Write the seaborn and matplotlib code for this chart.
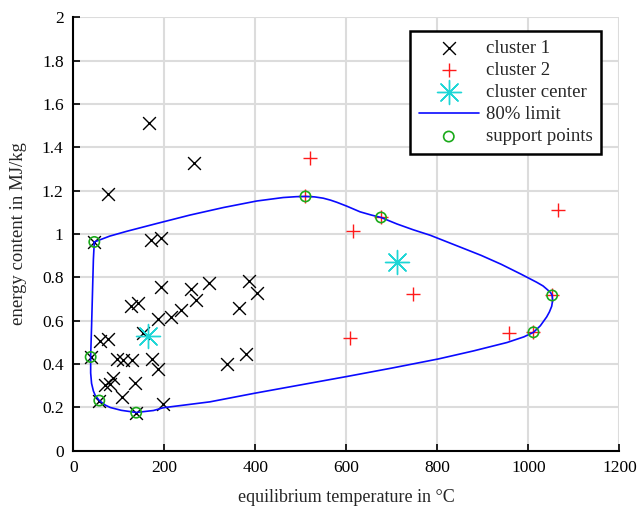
import numpy as np
import pandas as pd
import matplotlib
matplotlib.use("Agg")
import matplotlib.pyplot as plt
import seaborn as sns

# cluster 1 (black x)
c1_temp = [166, 265, 75, 46, 170, 192, 193, 259, 298, 387, 403, 126, 141, 270,
           237, 215, 187, 364, 153, 59, 77, 38, 95, 109, 128, 172, 186, 337,
           379, 88, 70, 81, 136, 106, 57, 138, 198]
c1_energy = [1.513, 1.328, 1.185, 0.963, 0.972, 0.979, 0.756, 0.747, 0.772, 0.781,
             0.728, 0.666, 0.682, 0.694, 0.648, 0.616, 0.608, 0.660, 0.543, 0.504,
             0.515, 0.432, 0.423, 0.420, 0.416, 0.423, 0.376, 0.398, 0.447, 0.335,
             0.304, 0.308, 0.311, 0.247, 0.231, 0.175, 0.215]

# cluster 2 (red +)
c2_temp = [519, 510, 676, 615, 746, 608, 1064, 1052, 1011, 957]
c2_energy = [1.349, 1.173, 1.076, 1.013, 0.725, 0.521, 1.111, 0.716, 0.546, 0.543]

# cluster centers
center_temp = [163, 712]
center_energy = [0.531, 0.870]

# support points of the 80% limit
sup_temp = [46, 38, 57, 138, 510, 676, 1052, 1011]
sup_energy = [0.963, 0.432, 0.231, 0.175, 1.173, 1.076, 0.716, 0.546]

# 80% limit contour
lim_temp = [46, 80, 117, 183, 256, 330, 403, 461, 490, 510, 530, 549, 565, 579,
            601, 630, 655, 676, 711, 747, 784, 860, 896, 940, 984, 1018, 1032,
            1042, 1049, 1052, 1053, 1051, 1046, 1040, 1026, 1011, 990, 953, 879,
            802, 700, 601, 399, 300, 198, 176, 138, 105, 81, 70, 57, 48, 44, 40,
            38, 38, 40, 42, 44, 46]
lim_energy = [0.963, 0.990, 1.012, 1.048, 1.087, 1.122, 1.152, 1.168, 1.172, 1.173,
              1.171, 1.165, 1.156, 1.146, 1.128, 1.102, 1.087, 1.076, 1.046, 1.019,
              0.994, 0.931, 0.901, 0.860, 0.814, 0.777, 0.760, 0.742, 0.728, 0.716,
              0.692, 0.666, 0.640, 0.617, 0.576, 0.546, 0.525, 0.499, 0.460, 0.423,
              0.381, 0.342, 0.265, 0.225, 0.198, 0.185, 0.176, 0.186, 0.199, 0.210,
              0.231, 0.255, 0.275, 0.310, 0.358, 0.435, 0.574, 0.728, 0.883, 0.963]

sns.set_style("white")
plt.rcParams["font.family"] = ["Liberation Serif", "DejaVu Serif"]

fig = plt.figure(figsize=(6.38, 5.08), dpi=100)
ax = fig.add_axes([0.115, 0.113, 0.856, 0.853])

df1 = pd.DataFrame({"t": c1_temp, "e": c1_energy})
df2 = pd.DataFrame({"t": c2_temp, "e": c2_energy})
dfc = pd.DataFrame({"t": center_temp, "e": center_energy})
dfs = pd.DataFrame({"t": sup_temp, "e": sup_energy})
dfl = pd.DataFrame({"t": lim_temp, "e": lim_energy})

sns.scatterplot(data=df1, x="t", y="e", marker="x", color="black", s=85,
                linewidth=1.0, ax=ax, zorder=3, label="cluster 1")
sns.scatterplot(data=df2, x="t", y="e", marker="+", color="#ff1a1a", s=100,
                linewidth=1.0, ax=ax, zorder=3, label="cluster 2")
sns.scatterplot(data=dfc, x="t", y="e", marker=(8, 2, 0), color="#1ed6d6", s=300,
                linewidth=1.0, ax=ax, zorder=4, label="cluster center")
sns.lineplot(data=dfl, x="t", y="e", sort=False, estimator=None, color="#0a0aff",
             linewidth=1.2, ax=ax, zorder=3, label="80% limit")
sns.scatterplot(data=dfs, x="t", y="e", marker="o", facecolor="none",
                edgecolor="#1aaa1a", s=55, linewidth=1.2, ax=ax, zorder=5,
                label="support points")

ax.set_xlim(0, 1200)
ax.set_ylim(0, 2)
ax.set_xticks(np.arange(0, 1201, 200))
ax.set_yticks(np.arange(0, 2.01, 0.2))
ax.set_yticklabels(["0", "0.2", "0.4", "0.6", "0.8", "1", "1.2", "1.4", "1.6", "1.8", "2"])
ax.grid(True, color="#dcdcdc", linewidth=1.5)
ax.set_axisbelow(True)
for side in ["top", "right"]:
    ax.spines[side].set_visible(False)
for side in ["left", "bottom"]:
    ax.spines[side].set_color("black")
    ax.spines[side].set_linewidth(1.5)
ax.tick_params(direction="in", length=5, width=1.2, labelsize=12.5, colors="black",
               left=True, bottom=True, pad=7)
ax.set_xlabel("equilibrium temperature in °C", fontsize=13, labelpad=9)
ax.set_ylabel("energy content in MJ/kg", fontsize=13.5, labelpad=11)

handles, labels = ax.get_legend_handles_labels()
order = ["cluster 1", "cluster 2", "cluster center", "80% limit", "support points"]
hmap = dict(zip(labels, handles))
leg = ax.legend([hmap[k] for k in order], order, loc="upper left",
                bbox_to_anchor=(0.617, 0.968), fontsize=13.5, frameon=True,
                fancybox=False, framealpha=1, edgecolor="black",
                handlelength=3.2, labelspacing=0.27, borderpad=0.45,
                handletextpad=0.4, borderaxespad=0)
leg.get_frame().set_linewidth(1.8)

fig.savefig("out.png", dpi=100)
